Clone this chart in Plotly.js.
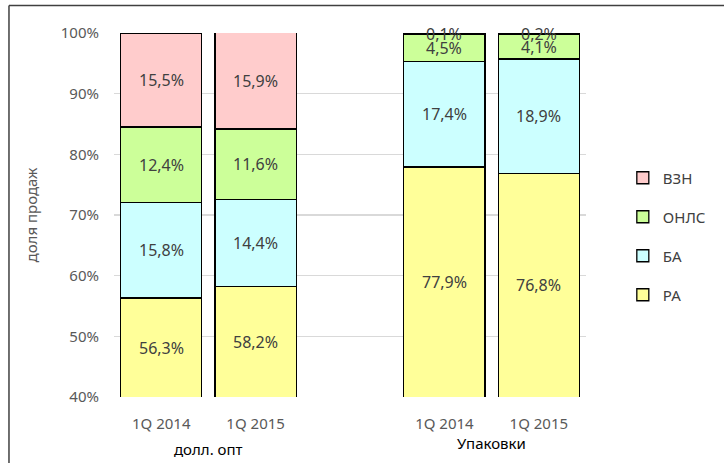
<!DOCTYPE html>
<html>
<head>
<meta charset="utf-8">
<script src="https://cdn.plot.ly/plotly-3.0.1.min.js"></script>
<style>html,body{margin:0;padding:0;background:#fff}#chart{width:724px;height:463px}</style>
</head>
<body>
<div id="chart"></div>
<script>
// Data
var positions = [0, 1, 3, 4];
var tickLabels = ['1Q 2014', '1Q 2015', '1Q 2014', '1Q 2015'];
var groupLabels = ['долл. опт', 'Упаковки'];
var seriesNames = ['РА', 'БА', 'ОНЛС', 'ВЗН'];
var RA   = [56.3, 58.2, 77.9, 76.8];
var BA   = [15.8, 14.4, 17.4, 18.9];
var ONLS = [12.4, 11.6, 4.5, 4.1];
var VZN  = [15.5, 15.9, 0.1, 0.2];
var colors = ['#FFFF99', '#CCFFFF', '#CCFF99', '#FFCCCC'];
var yMin = 40, yMax = 100;

var series = [RA, BA, ONLS, VZN];
var traces = [];
var annotations = [];
var base = [0, 0, 0, 0];
series.forEach(function (vals, si) {
  traces.push({
    type: 'bar',
    name: seriesNames[si],
    x: positions,
    y: vals,
    width: 0.86,
    marker: {color: colors[si], line: {color: '#000000', width: 1.3}},
    legendgroup: seriesNames[si],
    legendrank: series.length - si,
    hoverinfo: 'skip'
  });
  vals.forEach(function (v, i) {
    var lo = Math.max(base[i], yMin);
    var hi = base[i] + v;
    annotations.push({
      x: positions[i], y: (lo + hi) / 2, xref: 'x', yref: 'y',
      yanchor: 'middle', xanchor: 'center',
      text: v.toFixed(1).replace('.', ',') + '%',
      showarrow: false,
      font: {family: 'Noto Sans', size: 16, color: '#404040'}
    });
    base[i] += v;
  });
});

annotations.push({
  x: 0.5, y: -0.144, xref: 'x', yref: 'paper', text: groupLabels[0],
  xanchor: 'center', yanchor: 'middle',
  showarrow: false, font: {family: 'Noto Sans', size: 15, color: '#000000'}
});
annotations.push({
  x: 3.5, y: -0.125, xref: 'x', yref: 'paper', text: groupLabels[1],
  xanchor: 'center', yanchor: 'middle',
  showarrow: false, font: {family: 'Noto Sans', size: 15, color: '#000000'}
});
annotations.push({
  x: -0.175, y: 0.5, xref: 'paper', yref: 'paper', text: 'доля продаж',
  xanchor: 'center', yanchor: 'middle',
  textangle: -90, showarrow: false,
  font: {family: 'Noto Sans', size: 15, color: '#595959'}
});

var layout = {
  width: 724, height: 463,
  margin: {l: 114, r: 138, t: 32.5, b: 65.5},
  paper_bgcolor: '#ffffff', plot_bgcolor: '#ffffff',
  barmode: 'stack',
  showlegend: true,
  legend: {
    x: 1.078, y: 0.441, xanchor: 'left', yanchor: 'middle',
    traceorder: 'grouped', tracegroupgap: 16.5,
    font: {family: 'Noto Sans', size: 15, color: '#404040'}
  },
  xaxis: {
    range: [-0.5, 4.5], tickvals: positions, ticktext: tickLabels,
    showgrid: false, zeroline: false, showline: false, ticks: '',
    ticklabelstandoff: 16,
    tickfont: {family: 'Noto Sans', size: 15, color: '#595959'}
  },
  yaxis: {
    range: [yMin, yMax], dtick: 10, ticksuffix: '%',
    showgrid: true, gridcolor: '#d9d9d9', gridwidth: 1.3,
    zeroline: false, showline: false, ticks: '',
    ticklabelstandoff: 14,
    tickfont: {family: 'Noto Sans', size: 15, color: '#595959'}
  },
  annotations: annotations,
  shapes: [
    {type: 'line', xref: 'paper', yref: 'paper', x0: -0.2225, x1: 1.3, y0: 1.0753, y1: 1.0753,
     line: {color: '#404040', width: 1.5}},
    {type: 'line', xref: 'paper', yref: 'paper', x0: -0.2225, x1: -0.2225, y0: 1.0753, y1: -0.3,
     line: {color: '#404040', width: 1.5}}
  ]
};

Plotly.newPlot('chart', traces, layout, {displayModeBar: false, staticPlot: true});
</script>
</body>
</html>
